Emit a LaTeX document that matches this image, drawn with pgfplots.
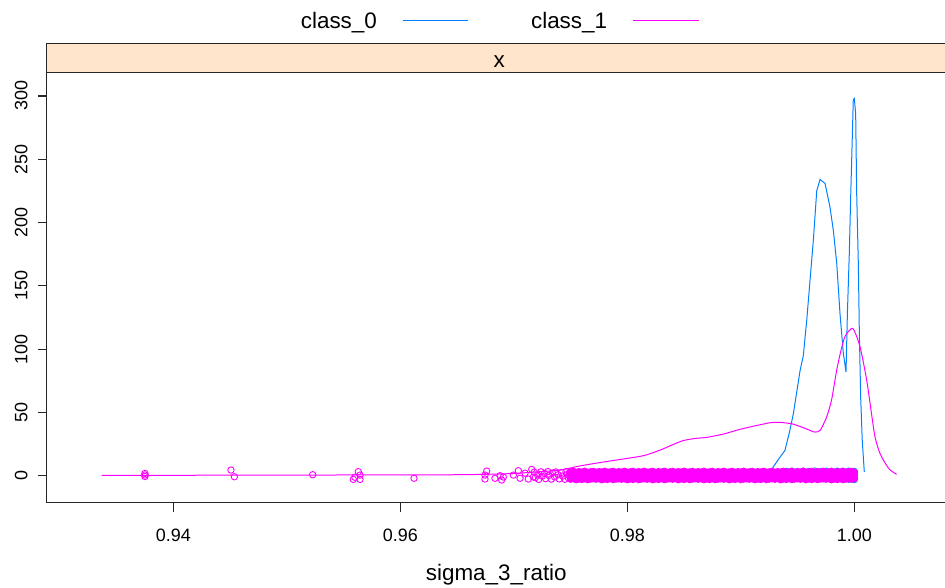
\documentclass[border=0pt]{standalone}
\usepackage{pgfplots}
\pgfplotsset{compat=1.18}
\usepackage{pgfplotstable}
\usepackage{fontspec}
\setmainfont{Liberation Sans}

\definecolor{grpA}{HTML}{0080FF}
\definecolor{grpB}{HTML}{FF00FF}
\definecolor{stripbg}{HTML}{FFE5CC}
\definecolor{frame}{HTML}{262626}

% density estimate, class_0
\pgfplotstableread{
x y
0.99220 0
0.99260 2
0.99286 7
0.99340 14
0.99389 20
0.99430 35
0.99463 49
0.99522 83
0.99551 95
0.99581 123
0.99639 186
0.99669 225
0.99698 234
0.99742 231
0.99786 212
0.99815 194
0.99845 168
0.99874 128
0.99903 97
0.99927 82
0.99939 128
0.99956 176
0.99968 220
0.99980 260
0.99991 297
1.00000 298
1.00012 286
1.00021 223
1.00036 165
1.00044 115
1.00056 62
1.00070 28
1.00088 3
}\densA

% density estimate, class_1
\pgfplotstableread{
x y
0.93369 0.2
0.94000 0.3
0.94500 0.5
0.95000 0.4
0.95500 0.6
0.96000 0.6
0.96500 0.8
0.96800 1.2
0.97000 1.8
0.97200 3.0
0.97410 4.5
0.97580 7.7
0.97800 11.0
0.98000 13.7
0.98150 16.0
0.98290 20.3
0.98400 24.5
0.98490 27.7
0.98600 29.5
0.98700 30.3
0.98850 33.0
0.98990 36.6
0.99130 39.5
0.99260 41.9
0.99340 42.2
0.99450 41.0
0.99550 38.0
0.99650 34.5
0.99700 36.0
0.99757 46.6
0.99800 60.0
0.99845 83.5
0.99880 98.0
0.99918 110.0
0.99986 116.4
1.00050 102.0
1.00109 75.6
1.00150 50.0
1.00182 30.8
1.00220 19.0
1.00256 12.4
1.00310 5.0
1.00373 1.1
}\densB

% jittered observations, class_1 (dense part)
\pgfplotstableread{
x a b c
0.97500 2.9 0.3 -2.6
0.97525 3.3 -0.4 -2.2
0.97550 2.5 0.1 -3.0
0.97575 3.1 -0.2 -2.4
0.97600 2.7 0.5 -2.8
0.97625 3.4 -0.5 -2.1
0.97650 2.6 0.0 -2.9
0.97675 2.9 0.4 -2.5
0.97700 3.3 -0.1 -2.3
0.97725 2.5 0.2 -2.6
0.97750 3.1 0.3 -2.2
0.97775 2.7 -0.4 -3.0
0.97800 3.4 0.1 -2.4
0.97825 2.6 -0.2 -2.8
0.97850 2.9 0.5 -2.1
0.97875 3.3 -0.5 -2.9
0.97900 2.5 0.0 -2.5
0.97925 3.1 0.4 -2.3
0.97950 2.7 -0.1 -2.6
0.97975 3.4 0.2 -2.2
0.98000 2.6 0.3 -3.0
0.98025 2.9 -0.4 -2.4
0.98050 3.3 0.1 -2.8
0.98075 2.5 -0.2 -2.1
0.98100 3.1 0.5 -2.9
0.98125 2.7 -0.5 -2.5
0.98150 3.4 0.0 -2.3
0.98175 2.6 0.4 -2.6
0.98200 2.9 -0.1 -2.2
0.98225 3.3 0.2 -3.0
0.98250 2.5 0.3 -2.4
0.98275 3.1 -0.4 -2.8
0.98300 2.7 0.1 -2.1
0.98325 3.4 -0.2 -2.9
0.98350 2.6 0.5 -2.5
0.98375 2.9 -0.5 -2.3
0.98400 3.3 0.0 -2.6
0.98425 2.5 0.4 -2.2
0.98450 3.1 -0.1 -3.0
0.98475 2.7 0.2 -2.4
0.98500 3.4 0.3 -2.8
0.98525 2.6 -0.4 -2.1
0.98550 2.9 0.1 -2.9
0.98575 3.3 -0.2 -2.5
0.98600 2.5 0.5 -2.3
0.98625 3.1 -0.5 -2.6
0.98650 2.7 0.0 -2.2
0.98675 3.4 0.4 -3.0
0.98700 2.6 -0.1 -2.4
0.98725 2.9 0.2 -2.8
0.98750 3.3 0.3 -2.1
0.98775 2.5 -0.4 -2.9
0.98800 3.1 0.1 -2.5
0.98825 2.7 -0.2 -2.3
0.98850 3.4 0.5 -2.6
0.98875 2.6 -0.5 -2.2
0.98900 2.9 0.0 -3.0
0.98925 3.3 0.4 -2.4
0.98950 2.5 -0.1 -2.8
0.98975 3.1 0.2 -2.1
0.99000 2.7 0.3 -2.9
0.99025 3.4 -0.4 -2.5
0.99050 2.6 0.1 -2.3
0.99075 2.9 -0.2 -2.6
0.99100 3.3 0.5 -2.2
0.99125 2.5 -0.5 -3.0
0.99150 3.1 0.0 -2.4
0.99175 2.7 0.4 -2.8
0.99200 3.4 -0.1 -2.1
0.99225 2.6 0.2 -2.9
0.99250 2.9 0.3 -2.5
0.99275 3.3 -0.4 -2.3
0.99300 2.5 0.1 -2.6
0.99325 3.1 -0.2 -2.2
0.99350 2.7 0.5 -3.0
0.99375 3.4 -0.5 -2.4
0.99400 2.6 0.0 -2.8
0.99425 2.9 0.4 -2.1
0.99450 3.3 -0.1 -2.9
0.99475 2.5 0.2 -2.5
0.99500 3.1 0.3 -2.3
0.99525 2.7 -0.4 -2.6
0.99550 3.4 0.1 -2.2
0.99575 2.6 -0.2 -3.0
0.99600 2.9 0.5 -2.4
0.99625 3.3 -0.5 -2.8
0.99650 2.5 0.0 -2.1
0.99675 3.1 0.4 -2.9
0.99700 2.7 -0.1 -2.5
0.99725 3.4 0.2 -2.3
0.99750 2.6 0.3 -2.6
0.99775 2.9 -0.4 -2.2
0.99800 3.3 0.1 -3.0
0.99825 2.5 -0.2 -2.4
0.99850 3.1 0.5 -2.8
0.99875 2.7 -0.5 -2.1
0.99900 3.4 0.0 -2.9
0.99925 2.6 0.4 -2.5
0.99950 2.9 -0.1 -2.3
0.99975 3.3 0.2 -2.6
1.00000 2.5 0.3 -2.2
}\obsB

% jittered observations, class_1 (sparse lower tail)
\pgfplotstableread{
x y
0.93750 1.8
0.93750 -0.6
0.93750 0.6
0.94508 4.5
0.94538 -0.8
0.95228 0.8
0.95586 -2.9
0.95600 -1.2
0.95630 3.2
0.95645 0.5
0.95645 -2.9
0.96121 -2.0
0.96746 0.5
0.96761 3.7
0.96746 -2.6
0.96834 -2.0
0.96879 0.0
0.96893 -3.4
0.96908 -1.0
0.96996 0.5
0.97040 4.0
0.97055 -2.0
0.97099 2.0
0.97128 -2.6
0.97158 5.0
0.97172 -1.0
0.97180 2.8
0.97190 -1.5
0.97210 0.6
0.97220 -2.9
0.97240 3.1
0.97250 -0.4
0.97270 1.8
0.97280 -2.3
0.97300 3.3
0.97310 0.2
0.97330 -2.7
0.97340 2.2
0.97360 -1.0
0.97370 3.0
0.97390 0.8
0.97400 -2.5
0.97420 2.6
0.97430 -0.3
0.97450 -2.8
0.97460 3.2
0.97470 1.0
0.97480 -1.6
0.97490 2.4
}\tailB

% jittered observations, class_0
\pgfplotstableread{
x y
0.99400 3.4
0.99450 3.6
0.99500 3.3
0.99550 3.6
0.99600 3.4
0.99650 3.7
0.99700 3.3
0.99750 3.6
0.99800 3.4
0.99850 3.6
0.99900 3.3
0.99950 3.6
1.00000 3.4
0.99950 -2.8
1.00000 -3.0
}\obsA

\begin{document}
\begin{tikzpicture}[x=1bp,y=1bp]
\useasboundingbox (-46.7,-85.3) rectangle (898.3,502.7);
\begin{axis}[
  at={(0,0)}, anchor=south west,
  scale only axis, width=900.3bp, height=430.4bp,
  xmin=0.928846, xmax=1.008168, ymin=-21.3, ymax=318.7,
  axis line style={frame, line width=1.1bp},
  xtick={0.94,0.96,0.98,1.00},
  xticklabels={0.94,0.96,0.98,1.00},
  ytick={0,50,100,150,200,250,300},
  yticklabels={0,50,100,150,200,250,300},
  tick align=outside, xtick pos=bottom, ytick pos=left,
  major tick length=9bp,
  tick style={frame, line width=1.1bp},
  ticklabel style={font=\fontsize{18}{18}\selectfont, inner sep=0pt},
  yticklabel style={rotate=90, anchor=south, yshift=10bp},
  xticklabel style={anchor=north, yshift=-17.5bp},
  legend columns=2,
  legend plot pos=right,
  legend style={at={(axis description cs:0.2788,1.1199)}, anchor=west,
    draw=none, fill=none, font=\fontsize{22.5}{22.5}\selectfont,
    nodes={inner sep=0pt},
    /tikz/every odd column/.style={column sep=25bp},
    /tikz/every even column/.style={column sep=62bp}},
  legend image code/.code={\draw[#1, line width=1.6bp] (0bp,0bp) -- (65.6bp,0bp);},
]
% observations
\addplot[only marks, mark=o, mark size=3.2bp, grpA, line width=0.9bp, forget plot] table[x=x, y=y] {\obsA};
\addplot[only marks, mark=o, mark size=3.2bp, grpB, line width=0.9bp, forget plot] table[x=x, y=y] {\tailB};
% core of the overlapping class_1 observations
\addplot[fill=grpB, draw=none, forget plot] coordinates {
  (0.97520,-4.3) (0.99990,-4.3) (0.99990,5.0) (0.97520,5.0)} \closedcycle;
\addplot[only marks, mark=*, mark size=3.4bp, grpB, fill=grpB, line width=0.9bp, forget plot] table[x=x, y=a] {\obsB};
\addplot[only marks, mark=*, mark size=3.4bp, grpB, fill=grpB, line width=0.9bp, forget plot] table[x=x, y=b] {\obsB};
\addplot[only marks, mark=*, mark size=3.4bp, grpB, fill=grpB, line width=0.9bp, forget plot] table[x=x, y=c] {\obsB};
% density curves
\addplot[grpA, line width=1bp, no marks] table[x=x, y=y] {\densA};
\addlegendentry{class\_0}
\addplot[grpB, line width=1bp, no marks, smooth, tension=0.4] table[x=x, y=y] {\densB};
\addlegendentry{class\_1}
\end{axis}
% panel strip
\draw[fill=stripbg, draw=frame, line width=1.1bp] (0,430.4) rectangle (900.3,459.4);
\node[anchor=base, inner sep=0pt, font=\fontsize{22.5}{22.5}\selectfont] at (452.6,435.4) {x};
% axis title
\node[anchor=base, inner sep=0pt, font=\fontsize{22.5}{22.5}\selectfont] at (449.6,-77.8) {sigma\_3\_ratio};
\end{tikzpicture}
\end{document}
